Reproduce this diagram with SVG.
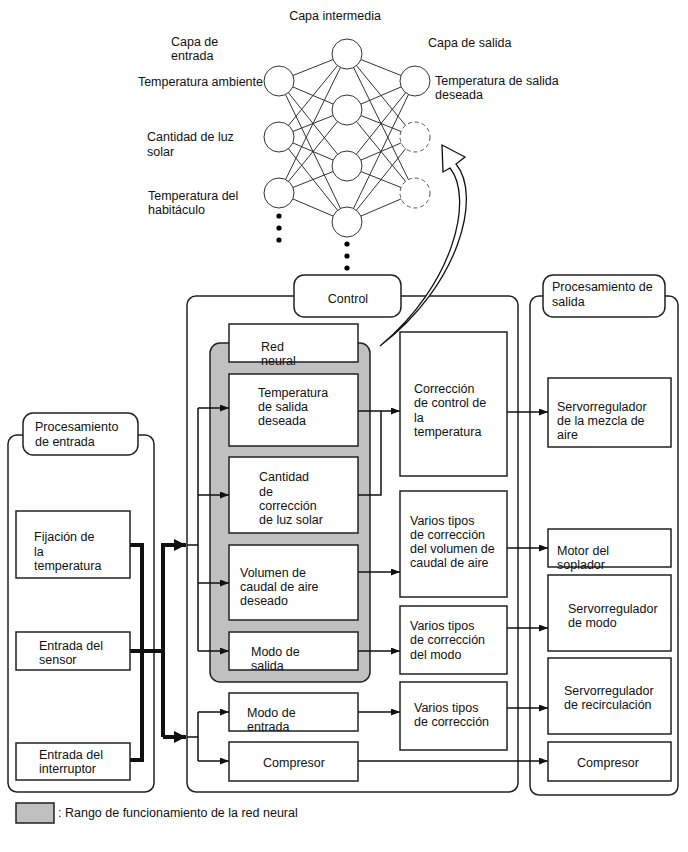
<svg xmlns="http://www.w3.org/2000/svg" width="688" height="852" viewBox="0 0 688 852">
<style>
text{font-family:"Liberation Sans",Arial,sans-serif;font-size:12.5px;fill:#111}
.box{fill:#fff;stroke:#222;stroke-width:1.5}
.cont{fill:#fff;stroke:#222;stroke-width:1.5}
.nn{stroke:#333;stroke-width:1;fill:none}
.nd{fill:#fff;stroke:#333;stroke-width:1}
.nd2{fill:#fff;stroke:#555;stroke-width:1;stroke-dasharray:4 3}
.ln{fill:none;stroke:#111;stroke-width:1.5}
.th{fill:none;stroke:#111;stroke-width:4}
</style>
<defs>
<marker id="a" markerUnits="userSpaceOnUse" markerWidth="9" markerHeight="7" refX="9" refY="3.5" orient="auto"><path d="M0,0 L9,3.5 L0,7 z" fill="#111"/></marker>
<marker id="b" markerUnits="userSpaceOnUse" markerWidth="12" markerHeight="12" refX="12" refY="6" orient="auto"><path d="M0,0 L12,6 L0,12 z" fill="#111"/></marker>
</defs>
<rect width="688" height="852" fill="#fff"/>

<!-- Neural network -->
<g id="nn-links" class="nn">
<path d="M279,81 L347,54 M279,81 L347,110 M279,81 L347,166 M279,81 L347,222 M279,137 L347,54 M279,137 L347,110 M279,137 L347,166 M279,137 L347,222 M279,193 L347,54 M279,193 L347,110 M279,193 L347,166 M279,193 L347,222"/>
<path d="M347,54 L415,81 M347,54 L415,137 M347,54 L415,193 M347,110 L415,81 M347,110 L415,137 M347,110 L415,193 M347,166 L415,81 M347,166 L415,137 M347,166 L415,193 M347,222 L415,81 M347,222 L415,137 M347,222 L415,193"/>
</g>
<g id="nn-nodes">
<circle class="nd" cx="279" cy="81" r="15"/>
<circle class="nd" cx="279" cy="137" r="15"/>
<circle class="nd" cx="279" cy="193" r="15"/>
<circle class="nd" cx="347" cy="54" r="15"/>
<circle class="nd" cx="347" cy="110" r="15"/>
<circle class="nd" cx="347" cy="166" r="15"/>
<circle class="nd" cx="347" cy="222" r="15"/>
<circle class="nd" cx="415" cy="81" r="15"/>
<circle class="nd2" cx="415" cy="137" r="15"/>
<circle class="nd2" cx="415" cy="193" r="15"/>
<circle cx="279" cy="216" r="2.6" fill="#000"/>
<circle cx="279" cy="228" r="2.6" fill="#000"/>
<circle cx="279" cy="240" r="2.6" fill="#000"/>
<circle cx="347" cy="244" r="2.6" fill="#000"/>
<circle cx="347" cy="256" r="2.6" fill="#000"/>
<circle cx="347" cy="268" r="2.6" fill="#000"/>
</g>
<g id="nn-labels">
<text x="335" y="20" text-anchor="middle">Capa intermedia</text>
<text x="171" y="46">Capa de</text>
<text x="171" y="60">entrada</text>
<text x="263" y="86" text-anchor="end">Temperatura ambiente</text>
<text x="147" y="141">Cantidad de luz</text>
<text x="147" y="156">solar</text>
<text x="148" y="200">Temperatura del</text>
<text x="148" y="214">habitáculo</text>
<text x="428" y="47">Capa de salida</text>
<text x="435" y="85">Temperatura de salida</text>
<text x="435" y="99">deseada</text>
</g>

<!-- Containers -->
<g id="input-processing">
<rect class="cont" x="8" y="435" width="146" height="357" rx="9"/>
<rect class="cont" x="23" y="413" width="115" height="42" rx="10"/>
<text x="35" y="431">Procesamiento</text>
<text x="35" y="446">de entrada</text>
</g>
<g id="control">
<rect class="cont" x="187" y="296" width="331" height="496" rx="9"/>
<rect class="cont" x="294" y="275" width="107" height="42" rx="10"/>
<text x="348" y="303" text-anchor="middle">Control</text>
</g>
<g id="output-processing">
<rect class="cont" x="530" y="296" width="148" height="499" rx="9"/>
<rect class="cont" x="543" y="275" width="122" height="42" rx="10"/>
<text x="552" y="291">Procesamiento de</text>
<text x="552" y="306">salida</text>
</g>
<g id="neural-range">
<rect x="210" y="343" width="160" height="339" rx="10" fill="#c0c0c0" stroke="#222" stroke-width="1.5"/>
</g>

<!-- Hollow curved arrow -->
<g id="hollow-arrow">
<path d="M380,346 C454,285 474,198 450,168 L443,172 L442,145 L465,157 L456,164 C482,195 460,285 380,346 Z" fill="#fff" stroke="#111" stroke-width="1.3" stroke-linejoin="miter"/>
</g>

<!-- Connectors -->
<g id="connectors">
<path class="th" d="M130,545 H142 V760 H130"/>
<path class="th" d="M130,651 H163"/>
<path class="th" d="M163,737 V545 H186" marker-end="url(#b)"/>
<path class="th" d="M163,737 H186" marker-end="url(#b)"/>
<path class="ln" d="M187,545 H198 M198,408 V651"/>
<path class="ln" d="M198,408 H229" marker-end="url(#a)"/>
<path class="ln" d="M198,495 H229" marker-end="url(#a)"/>
<path class="ln" d="M198,583 H229" marker-end="url(#a)"/>
<path class="ln" d="M198,651 H229" marker-end="url(#a)"/>
<path class="ln" d="M187,737 H198 M198,712 V761"/>
<path class="ln" d="M198,712 H229" marker-end="url(#a)"/>
<path class="ln" d="M198,761 H229" marker-end="url(#a)"/>
<path class="ln" d="M358,495 H381 V411"/>
<path class="ln" d="M358,411 H400" marker-end="url(#a)"/>
<path class="ln" d="M358,572 H400" marker-end="url(#a)"/>
<path class="ln" d="M358,651 H400" marker-end="url(#a)"/>
<path class="ln" d="M358,712 H400" marker-end="url(#a)"/>
<path class="ln" d="M358,761 H548" marker-end="url(#a)"/>
<path class="ln" d="M507,412 H548" marker-end="url(#a)"/>
<path class="ln" d="M507,548 H548" marker-end="url(#a)"/>
<path class="ln" d="M507,628 H548" marker-end="url(#a)"/>
<path class="ln" d="M507,708 H548" marker-end="url(#a)"/>
</g>

<!-- Input nodes -->
<g id="fijacion"><rect class="box" x="16" y="511" width="114" height="67"/><text x="34" y="541">Fijación de</text><text x="34" y="556">la</text><text x="34" y="570">temperatura</text></g>
<g id="sensor"><rect class="box" x="16" y="632" width="114" height="38"/><text x="39" y="650">Entrada del</text><text x="39" y="664">sensor</text></g>
<g id="interruptor"><rect class="box" x="16" y="743" width="114" height="37"/><text x="39" y="759">Entrada del</text><text x="39" y="773">interruptor</text></g>

<!-- Control nodes -->
<g id="red-neural"><rect class="box" x="229" y="324" width="129" height="38"/><text x="261" y="351">Red</text><text x="261" y="365">neural</text></g>
<g id="temp-salida"><rect class="box" x="229" y="374" width="129" height="72"/><text x="258" y="397">Temperatura</text><text x="258" y="411">de salida</text><text x="258" y="425">deseada</text></g>
<g id="luz-solar"><rect class="box" x="229" y="457" width="129" height="76"/><text x="259" y="481">Cantidad</text><text x="259" y="496">de</text><text x="259" y="510">corrección</text><text x="259" y="524">de luz solar</text></g>
<g id="volumen"><rect class="box" x="229" y="545" width="129" height="75"/><text x="240" y="577">Volumen de</text><text x="240" y="591">caudal de aire</text><text x="240" y="605">deseado</text></g>
<g id="modo-salida"><rect class="box" x="229" y="632" width="129" height="38"/><text x="251" y="656">Modo de</text><text x="251" y="670">salida</text></g>
<g id="modo-entrada"><rect class="box" x="229" y="693" width="129" height="38"/><text x="247" y="717">Modo de</text><text x="247" y="731">entrada</text></g>
<g id="compresor-c"><rect class="box" x="229" y="742" width="129" height="39"/><text x="294" y="767" text-anchor="middle">Compresor</text></g>

<g id="corr-temp"><rect class="box" x="400" y="332" width="107" height="144"/><text x="414" y="393">Corrección</text><text x="414" y="407">de control de</text><text x="414" y="422">la</text><text x="414" y="436">temperatura</text></g>
<g id="corr-vol"><rect class="box" x="400" y="491" width="107" height="106"/><text x="410" y="525">Varios tipos</text><text x="410" y="539">de corrección</text><text x="410" y="553">del volumen de</text><text x="410" y="567">caudal de aire</text></g>
<g id="corr-modo"><rect class="box" x="400" y="606" width="107" height="68"/><text x="410" y="630">Varios tipos</text><text x="410" y="644">de corrección</text><text x="410" y="659">del modo</text></g>
<g id="corr-var"><rect class="box" x="400" y="682" width="107" height="68"/><text x="414" y="712">Varios tipos</text><text x="414" y="726">de corrección</text></g>

<!-- Output nodes -->
<g id="servo-mezcla"><rect class="box" x="548" y="378" width="123" height="69"/><text x="557" y="411">Servorregulador</text><text x="557" y="425">de la mezcla de</text><text x="557" y="439">aire</text></g>
<g id="motor"><rect class="box" x="548" y="529" width="123" height="38"/><text x="557" y="555">Motor del</text><text x="557" y="569">soplador</text></g>
<g id="servo-modo"><rect class="box" x="548" y="575" width="123" height="76"/><text x="568" y="613">Servorregulador</text><text x="568" y="627">de modo</text></g>
<g id="servo-recirc"><rect class="box" x="548" y="658" width="123" height="76"/><text x="564" y="695">Servorregulador</text><text x="564" y="709">de recirculación</text></g>
<g id="compresor-o"><rect class="box" x="548" y="742" width="123" height="39"/><text x="608" y="767" text-anchor="middle">Compresor</text></g>

<!-- Legend -->
<g id="legend"><rect x="16" y="803" width="38" height="20" fill="#c0c0c0" stroke="#222" stroke-width="1.5"/><text x="58" y="817">: Rango de funcionamiento de la red neural</text></g>
</svg>
